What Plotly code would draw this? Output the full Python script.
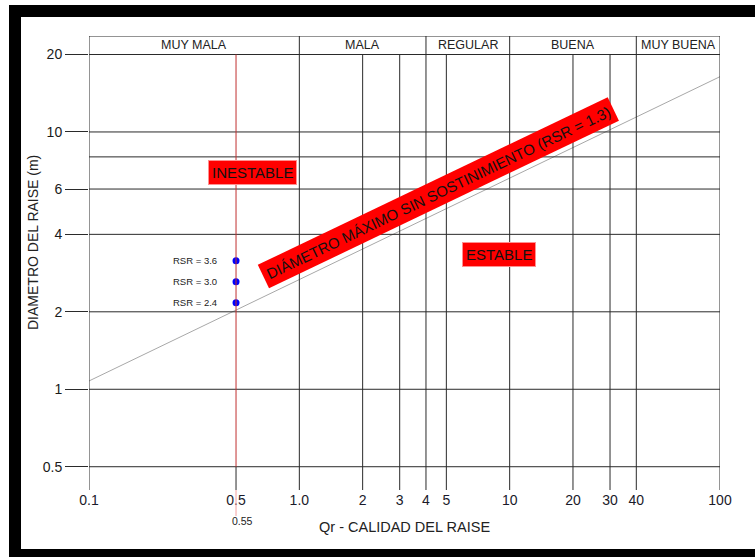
import numpy as np
import plotly.graph_objects as go

# ---------------- data ----------------
x_ticks = [0.1, 0.5, 1, 2, 3, 4, 5, 10, 20, 30, 40, 100]
x_tick_text = ["0.1", "0.5", "1.0", "2", "3", "4", "5", "10", "20", "30", "40", "100"]
y_ticks = [0.5, 1, 2, 4, 6, 10, 20]
y_tick_text = ["0.5", "1", "2", "4", "6", "10", "20"]
y_grid_extra = [8]

clase_limites = [0.1, 1, 4, 10, 40, 100]
clase_nombres = ["MUY MALA", "MALA", "REGULAR", "BUENA", "MUY BUENA"]

linea_qr = [0.1, 100]          # Qr along the max-span line
linea_d = [1.077, 16.4]        # diameter (m) along the line (RSR = 1.3)

qr_punto = 0.5                 # vertical line position (labelled 0.55)
qr_punto_label = "0.55"
rsr_labels = ["RSR = 3.6", "RSR = 3.0", "RSR = 2.4"]
rsr_d = [3.16, 2.62, 2.17]

X_RANGE = [0.1, 100]
Y_RANGE = [0.406, 23.6]

# ---------------- figure ----------------
W, H = 755, 557
L, R, T, B = 89, 35, 36, 67
plot_w = W - L - R
plot_h = H - T - B

def px2paper_x(px):
    return (px - L) / plot_w

def px2paper_y(py):
    return (H - B - py) / plot_h

GRID = "#2a2a2a"
fig = go.Figure()

# max-span line
fig.add_trace(go.Scatter(x=linea_qr, y=linea_d, mode="lines",
                         line=dict(color="#a8a8a8", width=1),
                         hoverinfo="skip", showlegend=False))
# RSR points
fig.add_trace(go.Scatter(x=[qr_punto] * len(rsr_d), y=rsr_d, mode="markers",
                         marker=dict(color="#0000ff", size=7),
                         showlegend=False))

shapes = []
# horizontal grid lines
for yv in y_ticks + y_grid_extra:
    shapes.append(dict(type="line", xref="x", yref="y", x0=X_RANGE[0], x1=X_RANGE[1],
                       y0=yv, y1=yv, line=dict(color=GRID, width=1)))
# top border
shapes.append(dict(type="line", xref="x", yref="y", x0=X_RANGE[0], x1=X_RANGE[1],
                   y0=Y_RANGE[1], y1=Y_RANGE[1], line=dict(color=GRID, width=1)))
# vertical grid lines
for xv in x_ticks:
    if xv == qr_punto:
        shapes.append(dict(type="line", xref="x", yref="y", x0=xv, x1=xv,
                           y0=Y_RANGE[0], y1=0.5, line=dict(color=GRID, width=1)))
        continue
    top = Y_RANGE[1] if xv in clase_limites else 20
    shapes.append(dict(type="line", xref="x", yref="y", x0=xv, x1=xv,
                       y0=Y_RANGE[0], y1=top, line=dict(color=GRID, width=1)))
# red vertical line
shapes.append(dict(type="line", xref="x", yref="y", x0=qr_punto, x1=qr_punto,
                   y0=0.5, y1=20, line=dict(color="#c03030", width=1)))
shapes.append(dict(type="line", xref="x", yref="paper", x0=qr_punto, x1=qr_punto,
                   y0=px2paper_y(490), y1=px2paper_y(516), line=dict(color="#f4a0a0", width=1)))
# small pink leaders to the RSR points
for d in rsr_d:
    shapes.append(dict(type="line", xref="x", yref="y", xsizemode="pixel", xanchor=qr_punto,
                       x0=-15, x1=0, y0=d, y1=d, line=dict(color="#f08080", width=1)))
# black frame
BLACK = "#000000"
shapes.append(dict(type="rect", xref="paper", yref="paper", x0=px2paper_x(9), x1=px2paper_x(770),
                   y0=px2paper_y(17), y1=px2paper_y(5), fillcolor=BLACK, line=dict(width=0)))
shapes.append(dict(type="rect", xref="paper", yref="paper", x0=px2paper_x(9), x1=px2paper_x(21),
                   y0=px2paper_y(570), y1=px2paper_y(5), fillcolor=BLACK, line=dict(width=0)))
shapes.append(dict(type="rect", xref="paper", yref="paper", x0=px2paper_x(9), x1=px2paper_x(770),
                   y0=px2paper_y(570), y1=px2paper_y(549), fillcolor=BLACK, line=dict(width=0)))

annotations = []
FONT = "Liberation Sans, Arial, sans-serif"
# class headers
y_head = np.log10(np.sqrt(20 * Y_RANGE[1]))
for i, name in enumerate(clase_nombres):
    xc = np.log10(np.sqrt(clase_limites[i] * clase_limites[i + 1]))
    annotations.append(dict(x=xc, y=y_head, xref="x", yref="y", text=name, showarrow=False,
                            font=dict(size=12.5, color="#222222", family=FONT)))
# zone labels
annotations.append(dict(x=-0.225, y=0.841, xref="x", yref="y", text="INESTABLE", showarrow=False,
                        font=dict(size=15, color="#111111", family=FONT), bgcolor="#ff0000",
                        bordercolor="#ff9090", borderwidth=1, borderpad=3))
annotations.append(dict(x=0.949, y=0.522, xref="x", yref="y", text="ESTABLE", showarrow=False,
                        font=dict(size=15, color="#111111", family=FONT), bgcolor="#ff0000",
                        bordercolor="#ff9090", borderwidth=1, borderpad=3))
annotations.append(dict(x=0.664, y=0.763, xref="x", yref="y",
                        text="DIÁMETRO MÁXIMO SIN SOSTINIMIENTO (RSR = 1.3)", showarrow=False,
                        textangle=-25.6, font=dict(size=15, color="#111111", family=FONT),
                        bgcolor="#ff0000", borderpad=4))
# RSR labels
for lab, d in zip(rsr_labels, rsr_d):
    annotations.append(dict(x=np.log10(qr_punto), y=np.log10(d), xref="x", yref="y", text=lab,
                            showarrow=False, xanchor="right", yanchor="middle", xshift=-17,
                            font=dict(size=9.5, color="#222222", family=FONT)))
# 0.55 label
annotations.append(dict(x=px2paper_x(242), y=px2paper_y(521), xref="paper", yref="paper",
                        xanchor="center", yanchor="middle",
                        text=qr_punto_label, showarrow=False,
                        font=dict(size=10.5, color="#222222", family=FONT)))
# axis titles
annotations.append(dict(x=px2paper_x(404), y=px2paper_y(527), xref="paper", yref="paper",
                        xanchor="center", yanchor="middle",
                        text="Qr - CALIDAD DEL RAISE", showarrow=False,
                        font=dict(size=14.5, color="#222222", family=FONT)))
annotations.append(dict(x=px2paper_x(33), y=px2paper_y(243), xref="paper", yref="paper",
                        xanchor="center", yanchor="middle",
                        text="DIAMETRO DEL RAISE (m)", showarrow=False, textangle=-90,
                        font=dict(size=14, color="#222222", family=FONT)))

fig.update_layout(
    width=W, height=H,
    margin=dict(l=L, r=R, t=T, b=B),
    paper_bgcolor="white", plot_bgcolor="white",
    shapes=shapes, annotations=annotations,
    font=dict(family=FONT, color="#222222"),
    xaxis=dict(type="log", range=[np.log10(X_RANGE[0]), np.log10(X_RANGE[1])],
               showgrid=False, zeroline=False, showline=False,
               tickvals=x_ticks, ticktext=x_tick_text, ticks="",
               tickfont=dict(size=14, color="#1a1a2a")),
    yaxis=dict(type="log", range=[np.log10(Y_RANGE[0]), np.log10(Y_RANGE[1])],
               showgrid=False, zeroline=False, showline=False,
               tickvals=y_ticks, ticktext=y_tick_text, ticks="outside", ticklen=23,
               tickcolor=GRID, tickwidth=1,
               tickfont=dict(size=14, color="#1a1a1a")),
    showlegend=False,
)

fig.write_html("out.html", config={"displayModeBar": False},
               post_script="document.body.style.margin='0';document.body.style.overflow='hidden';")
